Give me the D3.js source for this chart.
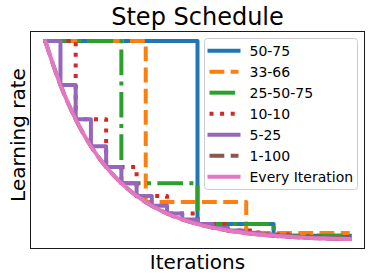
<!DOCTYPE html>
<html>
<head>
<meta charset="utf-8">
<script src="https://cdn.jsdelivr.net/npm/d3@7"></script>
<style>
  body { margin: 0; background: #fff; }
  text { font-family: 'DejaVu Sans', sans-serif; fill: #000; }
</style>
</head>
<body>
<div id="chart"></div>
<script>
// percent of training where each schedule steps, and the rate it holds from there on
const x5075 = [0, 50, 75, 100];
const lr5075 = [1, 0.082, 0.0235, 0.0235];

const x3366 = [0, 33, 66, 100];
const lr3366 = [1, 0.192, 0.037, 0.037];

const x255075 = [0, 25, 50, 75, 100];
const lr255075 = [1, 0.287, 0.082, 0.0235, 0.0235];

const x1010 = [0, 10, 20, 30, 40, 50, 60, 70, 80, 90, 100];
const lr1010 = [1, 0.607, 0.368, 0.223, 0.135, 0.082, 0.050, 0.030, 0.018, 0.011, 0.011];

const x525 = [0, 5, 10, 15, 20, 25, 30, 35, 40, 45, 50, 55, 60, 65, 70, 75, 80, 85, 90, 95, 100];
const lr525 = [1, 0.779, 0.607, 0.472, 0.368, 0.287, 0.223, 0.174, 0.135, 0.105, 0.082,
  0.064, 0.050, 0.039, 0.030, 0.0235, 0.018, 0.014, 0.011, 0.0087, 0.0087];

// the 1% steps are too fine to show, so these two follow the smooth curve
const xEvery = x525;
const lrEvery = [1, 0.779, 0.607, 0.472, 0.368, 0.287, 0.223, 0.174, 0.135, 0.105, 0.082,
  0.064, 0.050, 0.039, 0.030, 0.0235, 0.018, 0.014, 0.011, 0.0087, 0.0067];
const x1100 = xEvery;
const lr1100 = lrEvery;

const LW = 4;

const series = [
  {name: '50-75', x: x5075, lr: lr5075, color: '#1f77b4', dash: null, step: true},
  {name: '33-66', x: x3366, lr: lr3366, color: '#ff7f0e', dash: [14.8, 6.4], step: true},
  {name: '25-50-75', x: x255075, lr: lr255075, color: '#2ca02c', dash: [25.6, 6.4, 4, 6.4], step: true},
  {name: '10-10', x: x1010, lr: lr1010, color: '#d62728', dash: [4, 6.6], step: true},
  {name: '5-25', x: x525, lr: lr525, color: '#9467bd', dash: null, step: true},
  {name: '1-100', x: x1100, lr: lr1100, color: '#8c564b', dash: [14.8, 6.4], step: false},
  {name: 'Every Iteration', x: xEvery, lr: lrEvery, color: '#e377c2', dash: null, step: false},
];

const width = 372, height = 279;
const margin = {top: 31, right: 7, bottom: 30, left: 30};
const w = width - margin.left - margin.right;
const h = height - margin.top - margin.bottom;

const svg = d3.select('#chart')
  .append('svg')
  .attr('width', width)
  .attr('height', height);

const g = svg.append('g')
  .attr('transform', 'translate(' + margin.left + ',' + margin.top + ')');

// matplotlib style 5% padding around the data
const allLr = series.flatMap(s => s.lr);
const [yMin, yMax] = d3.extent(allLr);
const ySpan = yMax - yMin;

const x = d3.scaleLinear()
  .domain([-5, 105])
  .range([0, w]);

const y = d3.scaleLinear()
  .domain([yMin - 0.05 * ySpan, yMax + 0.05 * ySpan])
  .range([h, 0]);

g.append('clipPath').attr('id', 'plot-clip')
  .append('rect').attr('width', w).attr('height', h);

const plot = g.append('g').attr('clip-path', 'url(#plot-clip)');

for (const s of series) {
  const line = d3.line()
    .x(i => x(s.x[i]))
    .y(i => y(s.lr[i]))
    .curve(s.step ? d3.curveStepAfter : d3.curveMonotoneX);

  plot.append('path')
    .datum(d3.range(s.x.length))
    .attr('fill', 'none')
    .attr('stroke', s.color)
    .attr('stroke-width', LW)
    .attr('stroke-linejoin', 'round')
    .attr('stroke-linecap', s.dash ? 'butt' : 'square')
    .attr('stroke-dasharray', s.dash ? s.dash.join(',') : null)
    .attr('d', line);
}

// frame
g.append('rect')
  .attr('x', 0.5)
  .attr('y', 0.5)
  .attr('width', w - 1)
  .attr('height', h - 1)
  .attr('fill', 'none')
  .attr('stroke', '#1a1a1a')
  .attr('stroke-width', 1);

svg.append('text')
  .attr('x', margin.left + w / 2)
  .attr('y', 25)
  .attr('text-anchor', 'middle')
  .attr('font-size', 24)
  .text('Step Schedule');

svg.append('text')
  .attr('x', margin.left + w / 2)
  .attr('y', 269)
  .attr('text-anchor', 'middle')
  .attr('font-size', 20)
  .text('Iterations');

svg.append('text')
  .attr('transform', 'translate(25,135) rotate(-90)')
  .attr('text-anchor', 'middle')
  .attr('font-size', 20)
  .text('Learning rate');

// legend
const legend = svg.append('g').attr('transform', 'translate(204.5,38.5)');

legend.append('rect')
  .attr('width', 153)
  .attr('height', 151)
  .attr('rx', 3)
  .attr('fill', '#fff')
  .attr('fill-opacity', 0.8)
  .attr('stroke', '#cccccc')
  .attr('stroke-width', 1);

const rows = legend.selectAll('.row')
  .data(series)
  .enter()
  .append('g')
  .attr('class', 'row')
  .attr('transform', (d, i) => 'translate(0,' + (12.2 + i * 21) + ')');

rows.append('line')
  .attr('x1', 5)
  .attr('x2', 34)
  .attr('stroke', d => d.color)
  .attr('stroke-width', LW)
  .attr('stroke-linecap', d => d.dash ? 'butt' : 'square')
  .attr('stroke-dasharray', d => d.dash ? d.dash.join(',') : null);

rows.append('text')
  .attr('x', 45)
  .attr('y', 5)
  .attr('font-size', 14)
  .text(d => d.name);
</script>
</body>
</html>
